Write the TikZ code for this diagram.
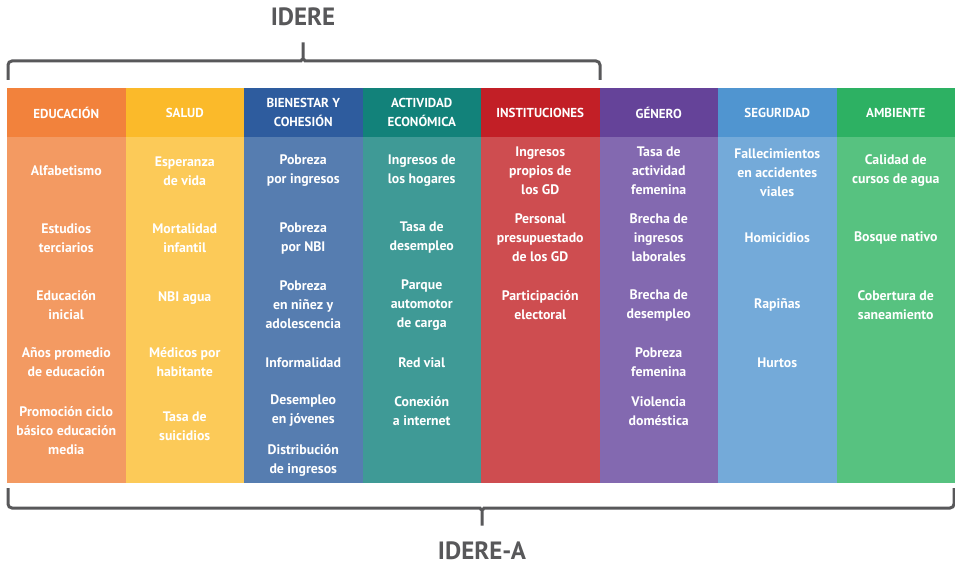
\documentclass[tikz,border=0pt]{standalone}
\usepackage{fontspec}
\setmainfont{PT Sans}
\usetikzlibrary{positioning}
\definecolor{bracegray}{HTML}{58585A}
\definecolor{hdA}{HTML}{F2823C}
\definecolor{hdB}{HTML}{FBBA2A}
\definecolor{hdC}{HTML}{2E5C9E}
\definecolor{hdD}{HTML}{12827A}
\definecolor{hdE}{HTML}{C21F26}
\definecolor{hdF}{HTML}{654399}
\definecolor{hdG}{HTML}{5095D0}
\definecolor{hdH}{HTML}{2DB163}
\definecolor{bdA}{HTML}{F39A62}
\definecolor{bdB}{HTML}{FCCA58}
\definecolor{bdC}{HTML}{567DB0}
\definecolor{bdD}{HTML}{3F9A96}
\definecolor{bdE}{HTML}{CE4D50}
\definecolor{bdF}{HTML}{8369B0}
\definecolor{bdG}{HTML}{74AAD9}
\definecolor{bdH}{HTML}{57C280}
\begin{document}
\begin{tikzpicture}[
        x=1pt, y=-1pt,
        header/.style={minimum width=118.5pt, minimum height=49pt, inner sep=0pt,
        	outer sep=0pt, align=center, text=white,
        	font={\fontsize{13}{19}\selectfont\bfseries}},
        column/.style={minimum width=118.5pt, minimum height=346pt, inner sep=0pt,
        	outer sep=0pt},
        item/.style={align=center, text=white, inner sep=1pt,
        	font={\fontsize{13.8}{19}\selectfont\bfseries}},
        title/.style={text=bracegray, font={\fontsize{25}{25}\selectfont\bfseries}},
        brace/.style={draw=bracegray, line width=3pt, rounded corners=4pt}
    ]
    \useasboundingbox (0,0) rectangle (955,567);

    %headers and columns
    \foreach \k/\c/\name in {1/A/EDUCACIÓN, 2/B/SALUD, 3/C/{BIENESTAR Y\\COHESIÓN},
    		4/D/{ACTIVIDAD\\ECONÓMICA}, 5/E/INSTITUCIONES, 6/F/GÉNERO,
    		7/G/SEGURIDAD, 8/H/AMBIENTE}{
        \node[header, fill=hd\c] (h\k) at (7+118.5*\k-59.25,112.5) {\name};
        \node[column, fill=bd\c, below=0pt of h\k] (b\k) {};
    }

    %indicators
    \foreach \y/\t in {171/Alfabetismo, 238/{Estudios\\terciarios},
    		305/{Educación\\inicial}, 362/{Años promedio\\de educación},
    		431/{Promoción ciclo\\básico educación\\media}}
        \node[item] at (b1.center |- 0,\y) {\t};
    \foreach \y/\t in {171/{Esperanza\\de vida}, 238/{Mortalidad\\infantil},
    		298/NBI agua, 362/{Médicos por\\habitante}, 426/{Tasa de\\suicidios}}
        \node[item] at (b2.center |- 0,\y) {\t};
    \foreach \y/\t in {171/{Pobreza\\por ingresos}, 238/{Pobreza\\por NBI},
    		305/{Pobreza\\en niñez y\\adolescencia}, 363/Informalidad,
    		411/{Desempleo\\en jóvenes}, 460/{Distribución\\de ingresos}}
        \node[item] at (b3.center |- 0,\y) {\t};
    \foreach \y/\t in {171/{Ingresos de\\los hogares}, 238/{Tasa de\\desempleo},
    		305/{Parque\\automotor\\de carga}, 363/Red vial, 411/{Conexión\\a internet}}
        \node[item] at (b4.center |- 0,\y) {\t};
    \foreach \y/\t in {171/{Ingresos\\propios de\\los GD},
    		238/{Personal\\presupuestado\\de los GD}, 305/{Participación\\electoral}}
        \node[item] at (b5.center |- 0,\y) {\t};
    \foreach \y/\t in {171/{Tasa de\\actividad\\femenina},
    		238/{Brecha de\\ingresos\\laborales}, 305/{Brecha de\\desempleo},
    		362/{Pobreza\\femenina}, 411/{Violencia\\doméstica}}
        \node[item] at (b6.center |- 0,\y) {\t};
    \foreach \y/\t in {173/{Fallecimientos\\en accidentes\\viales}, 238/Homicidios,
    		305/Rapiñas, 363/Hurtos}
        \node[item] at (b7.center |- 0,\y) {\t};
    \foreach \y/\t in {171/{Calidad de\\cursos de agua}, 238/Bosque nativo,
    		305/{Cobertura de\\saneamiento}}
        \node[item] at (b8.center |- 0,\y) {\t};

    %braces
    \node[title] (idere) at (303,17) {IDERE};
    \node[title] (iderea) at (482,551) {IDERE-A};
    \draw[brace] (8,80) -- (8,61) -- (297,61) to[out=0,in=-90] (303,55)
        -- (303,40) -- (303,55) to[out=-90,in=180] (309,61) -- (600,61) -- (600,80);
    \draw[brace] (8,488) -- (8,508) -- (476,508) to[out=0,in=90] (482,514)
        -- (482,528) -- (482,514) to[out=90,in=180] (488,508) -- (954,508) -- (954,488);
\end{tikzpicture}
\end{document}
